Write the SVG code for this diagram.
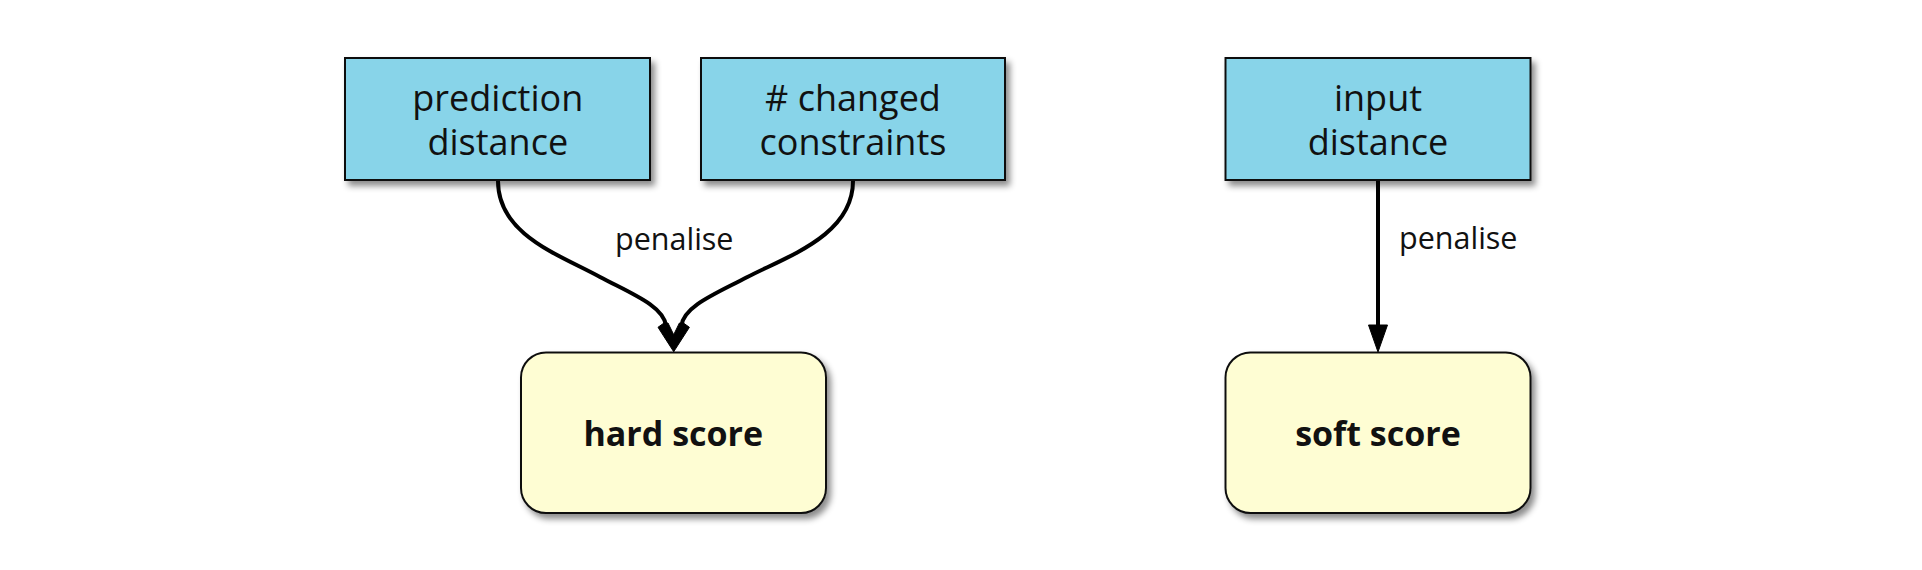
<svg xmlns="http://www.w3.org/2000/svg" width="1922" height="570" viewBox="0 0 1922 570">
<style>
.box{fill:#88d4e9;stroke:#111;stroke-width:2}
.score{fill:#fefdd3;stroke:#111;stroke-width:2}
.lbl{font-family:"Open Sans","Liberation Sans",sans-serif;font-size:36px;fill:#111;text-anchor:middle}
.bold{font-family:"Open Sans","Liberation Sans",sans-serif;font-size:34px;font-weight:bold;fill:#111;text-anchor:middle}
.edge{font-family:"Open Sans","Liberation Sans",sans-serif;font-size:30.5px;fill:#111}
.line{fill:none;stroke:#000;stroke-width:4}
.head{fill:#000;stroke:#000;stroke-width:1;stroke-linejoin:miter}
</style>
<defs>
<filter id="sh" x="-10%" y="-10%" width="130%" height="130%">
<feDropShadow dx="4" dy="5" stdDeviation="3" flood-color="#000" flood-opacity="0.45"/>
</filter>
</defs>
<rect width="1922" height="570" fill="#fff"/>
<g id="connectors">
<path class="line" d="M498,181 C498,235 560,255 600,277 C630,293 664,306 666,326"/>
<polygon class="head" points="673.7,351.7 658,327.3 664,323 668,323 673.7,334.7"/>
<path class="line" d="M853,181 C853,235 788,256 747.4,277 C717.4,293 683.4,306 681.4,326"/>
<polygon class="head" points="673.7,351.7 689.4,327.3 683.4,323 679.4,323 673.7,334.7"/>
<text class="edge" x="615" y="250">penalise</text>
<path class="line" d="M1378,181 L1378,326"/>
<polygon class="head" points="1378,352 1368.5,325 1387.5,325"/>
<text class="edge" x="1399" y="249">penalise</text>
</g>
<g id="prediction_distance">
<rect class="box" x="345" y="58" width="305" height="122" filter="url(#sh)"/>
<text class="lbl" x="497.8" y="110.7">prediction</text>
<text class="lbl" x="497.8" y="155">distance</text>
</g>
<g id="changed_constraints">
<rect class="box" x="701" y="58" width="304" height="122" filter="url(#sh)"/>
<text class="lbl" x="853" y="110.7"># changed</text>
<text class="lbl" x="853" y="155">constraints</text>
</g>
<g id="input_distance">
<rect class="box" x="1225.5" y="58" width="305" height="122" filter="url(#sh)"/>
<text class="lbl" x="1378" y="110.7">input</text>
<text class="lbl" x="1378" y="155">distance</text>
</g>
<g id="hard_score">
<rect class="score" x="521" y="352.5" width="305" height="160.5" rx="25" filter="url(#sh)"/>
<text class="bold" x="673.3" y="446">hard score</text>
</g>
<g id="soft_score">
<rect class="score" x="1225.5" y="352.5" width="305" height="160.5" rx="25" filter="url(#sh)"/>
<text class="bold" x="1378" y="446">soft score</text>
</g>
</svg>
